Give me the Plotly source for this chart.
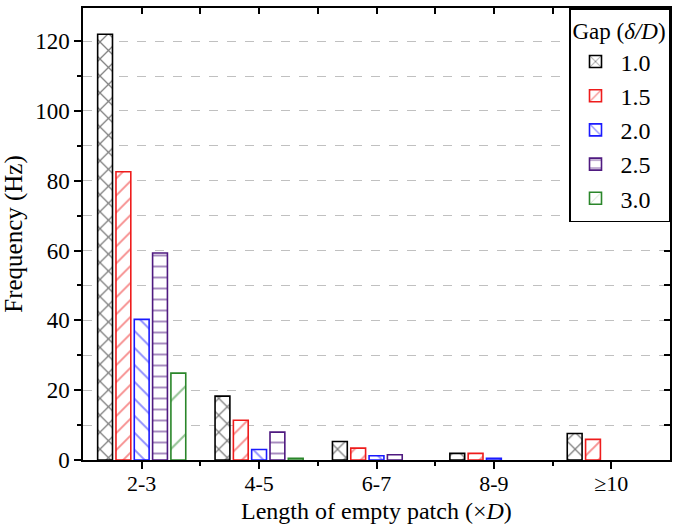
import plotly.graph_objects as go

categories = ["2-3", "4-5", "6-7", "8-9", "≥10"]
gap_names = ["1.0", "1.5", "2.0", "2.5", "3.0"]
freq_10 = [122, 18.3, 5.3, 1.9, 7.6]
freq_15 = [82.6, 11.4, 3.4, 1.9, 5.9]
freq_20 = [40.3, 3.0, 1.2, 0.5, None]
freq_25 = [59.3, 8.0, 1.5, None, None]
freq_30 = [24.9, 0.5, None, None, None]

series = [freq_10, freq_15, freq_20, freq_25, freq_30]
colors = ["#000000", "#ee1c1c", "#1a1aff", "#4f1a80", "#2a862a"]
shapes = ["x", "/", "\\", "-", "/"]
sizes = [12, 12, 12, 11, 34]
solid = [0.2, 0.16, 0.16, 0.18, 0.06]

xpos = list(range(len(categories)))
font = "Liberation Serif, Times New Roman, serif"

fig = go.Figure()
for name, vals, c, sh, sz, so in zip(gap_names, series, colors, shapes, sizes, solid):
    fig.add_trace(go.Bar(
        x=xpos, y=vals, name=name,
        marker=dict(color="white", line=dict(color=c, width=1.6),
                    pattern=dict(shape=sh, fgcolor=c, bgcolor="white", size=sz,
                                 solidity=so, fillmode="overlay")),
    ))
# invisible trace for mirrored axes
fig.add_trace(go.Scatter(x=[0], y=[0], xaxis="x2", yaxis="y2", showlegend=False,
                         mode="markers", marker=dict(opacity=0), hoverinfo="skip"))

fig.update_layout(
    width=681, height=530,
    margin=dict(l=83, r=11, t=6, b=70),
    paper_bgcolor="white", plot_bgcolor="white",
    barmode="group", bargap=0.22, bargroupgap=0.19,
    font=dict(family=font, size=23, color="black"),
    xaxis=dict(range=[-0.5, 4.5], tickmode="array", tickvals=xpos, ticktext=categories,
               ticks="outside", ticklen=7, tickwidth=1.5, tickcolor="black",
               showline=True, linecolor="black", linewidth=1.5, mirror=True,
               showgrid=False, zeroline=False, tickfont=dict(size=22),
               ticklabelstandoff=-4,
               minor=dict(tickmode="array", tickvals=[0.5, 1.5, 2.5, 3.5], ticks="outside",
                          ticklen=4, tickwidth=1.5, tickcolor="black", showgrid=False)),
    yaxis=dict(range=[0, 129.5], tickmode="array", tickvals=[0, 20, 40, 60, 80, 100, 120],
               ticks="outside", ticklen=7, tickwidth=1.5, tickcolor="black",
               showline=True, linecolor="black", linewidth=1.5, mirror=True,
               showgrid=True, gridcolor="#c0c0c0", griddash="dash", gridwidth=1,
               zeroline=False, tickfont=dict(size=23),
               minor=dict(tickmode="array", tickvals=[10, 30, 50, 70, 90, 110], ticks="outside",
                          ticklen=4, tickwidth=1.5, tickcolor="black", showgrid=True,
                          gridcolor="#c0c0c0", griddash="dash", gridwidth=1),
               title=dict(text="Frequency (Hz)", standoff=10, font=dict(size=25))),
    xaxis2=dict(overlaying="x", side="top", matches="x", range=[-0.5, 4.5],
                tickmode="array", tickvals=[0, 0.5, 1, 1.5, 2, 2.5, 3, 3.5, 4],
                ticks="inside", ticklen=6, tickwidth=1.5, tickcolor="black",
                showticklabels=False, showgrid=False, zeroline=False, showline=False),
    yaxis2=dict(overlaying="y", side="right", matches="y", range=[0, 129.5],
                tickmode="array", tickvals=[0, 10, 20, 30, 40, 50, 60, 70, 80, 90, 100, 110, 120],
                ticks="inside", ticklen=6, tickwidth=1.5, tickcolor="black",
                showticklabels=False, showgrid=False, zeroline=False, showline=False),
    legend=dict(x=1, y=1, xanchor="right", yanchor="top",
                bgcolor="white", bordercolor="black", borderwidth=1.5,
                font=dict(size=24), title=dict(text="Gap (<i>δ/D</i>)", font=dict(size=23)),
                itemwidth=40, tracegroupgap=0),
    showlegend=True,
    annotations=[dict(text="Length of empty patch (×<i>D</i>)", xref="paper", yref="paper",
                      x=0.5, y=-0.112, xanchor="center", yanchor="middle",
                      showarrow=False, font=dict(size=24))],
)

fig.write_html("out.html")
